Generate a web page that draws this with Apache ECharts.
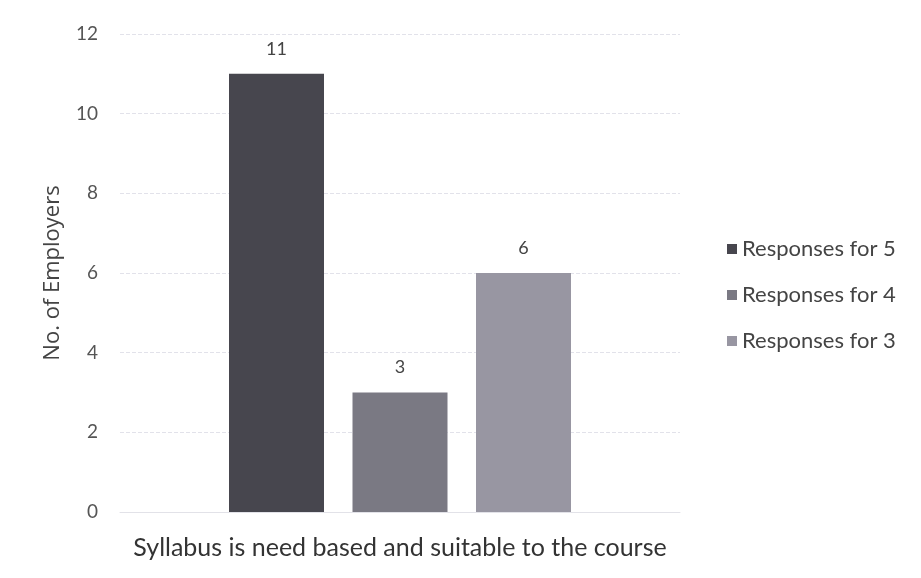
<!DOCTYPE html>
<html>
<head>
<meta charset="utf-8">
<script src="https://cdn.jsdelivr.net/npm/echarts@6/dist/echarts.min.js"></script>
<style>
  html, body { margin: 0; padding: 0; background: #fff; }
  #main { width: 921px; height: 578px; }
</style>
</head>
<body>
<div id="main"></div>
<script>
// data
let categories = ['Syllabus is need based and suitable to the course'];
let seriesNames = ['Responses for 5', 'Responses for 4', 'Responses for 3'];
let responses5 = [11];
let responses4 = [3];
let responses3 = [6];
let yTicks = [0, 2, 4, 6, 8, 10, 12];

let font = 'Lato';
let colors = ['#47464e', '#7a7983', '#9896a2'];
let chart = echarts.init(document.getElementById('main'));

let mkSeries = (name, data, i) => ({
    name: name,
    type: 'bar',
    data: data,
    barWidth: 95,
    barGap: '30%',
    itemStyle: {color: colors[i]},
    label: {
        show: true,
        position: 'top',
        distance: 16,
        color: '#444',
        fontFamily: font,
        fontSize: 18
    }
});

let option = {
    animation: false,
    textStyle: {fontFamily: font},
    grid: {left: 120, right: 241, top: 34, bottom: 66},
    legend: {
        orient: 'vertical',
        left: 722,
        top: 233,
        itemWidth: 10,
        itemHeight: 10,
        itemGap: 24,
        icon: 'rect',
        textStyle: {fontFamily: font, fontSize: 22, color: '#444'},
        data: seriesNames
    },
    xAxis: {
        type: 'category',
        data: categories,
        axisLine: {show: true, lineStyle: {color: '#e2e2e8'}},
        axisTick: {show: false},
        axisLabel: {color: '#333', fontSize: 25, fontFamily: font, margin: 23}
    },
    yAxis: {
        type: 'value',
        min: yTicks[0],
        max: yTicks[yTicks.length - 1],
        interval: 2,
        name: 'No. of Employers',
        nameLocation: 'middle',
        nameGap: 56,
        nameTextStyle: {color: '#444', fontSize: 22, fontFamily: 'Open Sans'},
        axisLine: {show: false},
        axisTick: {show: false},
        axisLabel: {color: '#555', fontSize: 19, fontFamily: font, margin: 22},
        splitLine: {lineStyle: {color: '#e2e2ea', type: [4, 2]}}
    },
    series: [
        mkSeries(seriesNames[0], responses5, 0),
        mkSeries(seriesNames[1], responses4, 1),
        mkSeries(seriesNames[2], responses3, 2)
    ]
};
chart.setOption(option);
</script>
</body>
</html>
